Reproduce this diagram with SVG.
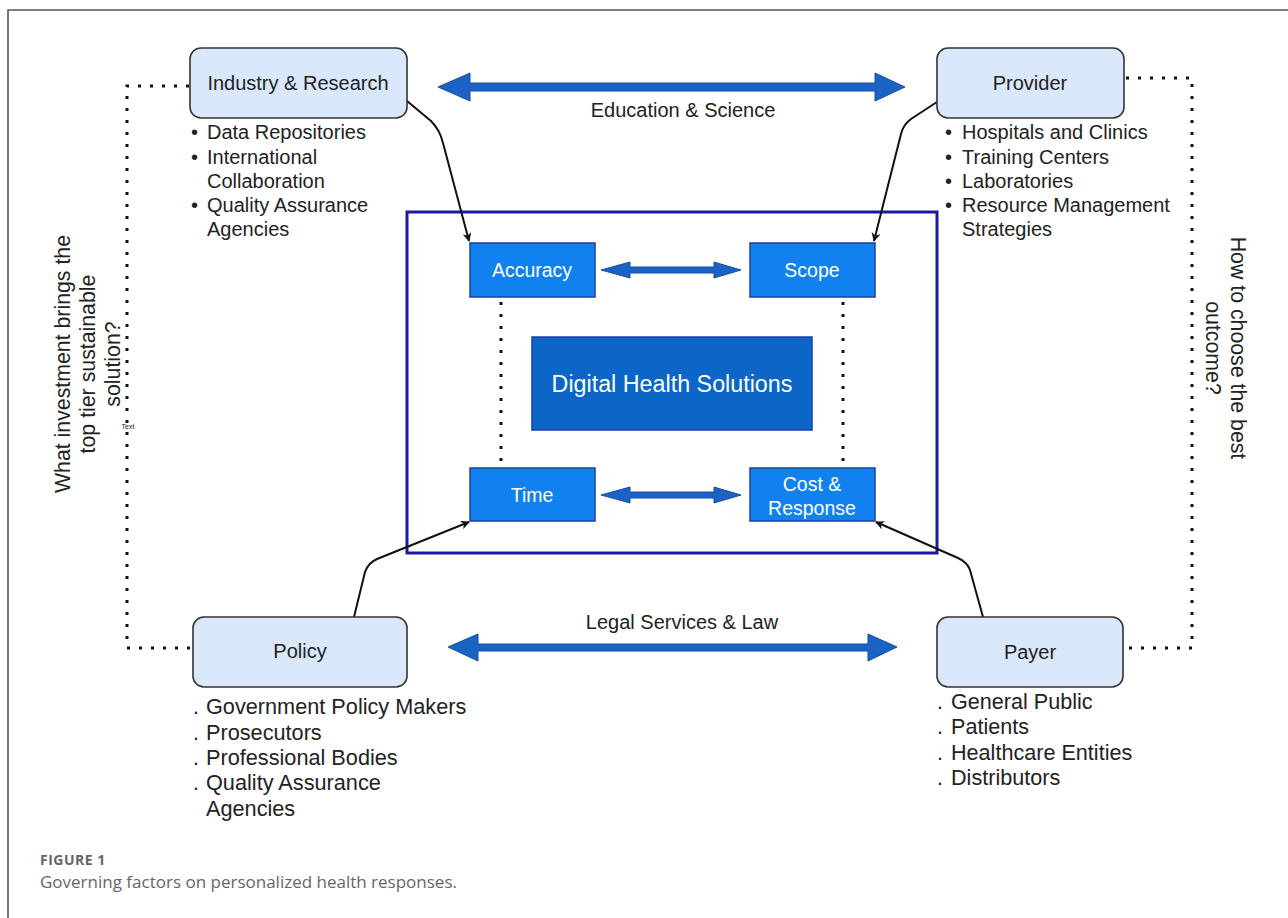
<svg xmlns="http://www.w3.org/2000/svg" width="1288" height="918" viewBox="0 0 1288 918">
  <style>
    .lbl { font-family: "Liberation Sans", Arial, sans-serif; fill: #222; }
    .stake rect { fill: #dae8fc; stroke: #333; stroke-width: 1.6; }
    .factor rect { fill: #1281f0; stroke: #1a3fa8; stroke-width: 1.5; }
    .wt { font-family: "Liberation Sans", Arial, sans-serif; fill: #fff; text-anchor: middle; }
    .dots { fill: none; stroke: #111; stroke-width: 3; stroke-dasharray: 3 9; }
    .conn { fill: none; stroke: #111; stroke-width: 2; }
    .big { fill: #1a63c4; stroke: #14509e; stroke-width: 1; }
    .cap { font-family: "Open Sans", "Liberation Sans", sans-serif; fill: #666; }
  </style>
  <defs>
    <marker id="ah" viewBox="0 0 10 10" refX="9" refY="5" markerWidth="9" markerHeight="9" orient="auto" markerUnits="userSpaceOnUse">
      <path d="M0,0 L10,5 L0,10 L3,5 Z" fill="#111"/>
    </marker>
  </defs>

  <!-- page frame -->
  <path d="M8,918 L8,10 L1288,10" fill="none" stroke="#555" stroke-width="1.6"/>

  <!-- centre frame -->
  <rect x="407" y="212" width="530" height="341" fill="none" stroke="#1a1aa6" stroke-width="3"/>

  <g id="connectors">
    <!-- dotted loops -->
    <path class="dots" d="M189,86 L127,86 L127,648 L193,648"/>
    <path class="dots" d="M1126,78 L1192,78 L1192,648 L1124,648"/>
    <!-- inner dotted links -->
    <path class="dots" d="M501,302 L501,466"/>
    <path class="dots" d="M843,302 L843,466"/>
    <!-- stakeholder to factor arrows -->
    <path class="conn" marker-end="url(#ah)" d="M407,101 L431,121 Q440,130 443,143 L469,241"/>
    <path class="conn" marker-end="url(#ah)" d="M937,102 L911,119 Q903,125 901,134 L874,241"/>
    <path class="conn" marker-end="url(#ah)" d="M354,617 L365,572 Q368,563 377,559 L469,522"/>
    <path class="conn" marker-end="url(#ah)" d="M983,617 L970,570 Q967,562 958,558 L876,522"/>
    <!-- wide double arrows -->
    <polygon class="big" points="438,87 470,73 470,83 875,83 875,73 905,87 875,101 875,91 470,91 470,101"/>
    <polygon class="big" points="448,647 478,634 478,644 868,644 868,634 897,647 868,661 868,651 478,651 478,661"/>
    <polygon class="big" points="601,270 630,262 630,267 714,267 714,262 741,270 714,278 714,273 630,273 630,278"/>
    <polygon class="big" points="601,495 630,487 630,492 714,492 714,487 741,495 714,503 714,498 630,498 630,503"/>
  </g>

  <text class="lbl" x="683" y="117" font-size="20" text-anchor="middle">Education &amp; Science</text>
  <text class="lbl" x="682" y="629" font-size="20" text-anchor="middle">Legal Services &amp; Law</text>

  <g id="industry" class="stake">
    <rect x="190" y="48" width="217" height="70" rx="11"/>
    <text class="lbl" x="298" y="90" font-size="20" text-anchor="middle">Industry &amp; Research</text>
    <g class="lbl" font-size="20">
      <text x="191" y="139">•</text><text x="207" y="139">Data Repositories</text>
      <text x="191" y="164">•</text><text x="207" y="164">International</text>
      <text x="207" y="188">Collaboration</text>
      <text x="191" y="212">•</text><text x="207" y="212">Quality Assurance</text>
      <text x="207" y="236">Agencies</text>
    </g>
  </g>

  <g id="provider" class="stake">
    <rect x="937" y="48" width="187" height="70" rx="11"/>
    <text class="lbl" x="1030" y="90" font-size="20" text-anchor="middle">Provider</text>
    <g class="lbl" font-size="20">
      <text x="945" y="139">•</text><text x="962" y="139">Hospitals and Clinics</text>
      <text x="945" y="164">•</text><text x="962" y="164">Training Centers</text>
      <text x="945" y="188">•</text><text x="962" y="188">Laboratories</text>
      <text x="945" y="212">•</text><text x="962" y="212">Resource Management</text>
      <text x="962" y="236">Strategies</text>
    </g>
  </g>

  <g id="policy" class="stake">
    <rect x="193" y="617" width="214" height="70" rx="11"/>
    <text class="lbl" x="300" y="658" font-size="20" text-anchor="middle">Policy</text>
    <g class="lbl" font-size="21.7">
      <text x="193" y="714">.</text><text x="206" y="714">Government Policy Makers</text>
      <text x="193" y="740">.</text><text x="206" y="740">Prosecutors</text>
      <text x="193" y="765">.</text><text x="206" y="765">Professional Bodies</text>
      <text x="193" y="790">.</text><text x="206" y="790">Quality Assurance</text>
      <text x="206" y="816">Agencies</text>
    </g>
  </g>

  <g id="payer" class="stake">
    <rect x="937" y="617" width="186" height="70" rx="11"/>
    <text class="lbl" x="1030" y="659" font-size="20" text-anchor="middle">Payer</text>
    <g class="lbl" font-size="21.6">
      <text x="937" y="709">.</text><text x="951" y="709">General Public</text>
      <text x="937" y="734">.</text><text x="951" y="734">Patients</text>
      <text x="937" y="760">.</text><text x="951" y="760">Healthcare Entities</text>
      <text x="937" y="785">.</text><text x="951" y="785">Distributors</text>
    </g>
  </g>

  <g id="accuracy" class="factor">
    <rect x="470" y="243" width="125" height="54"/>
    <text class="wt" x="532" y="277" font-size="19.5">Accuracy</text>
  </g>
  <g id="scope" class="factor">
    <rect x="750" y="243" width="125" height="54"/>
    <text class="wt" x="812" y="277" font-size="19.5">Scope</text>
  </g>
  <g id="time" class="factor">
    <rect x="470" y="468" width="125" height="53"/>
    <text class="wt" x="532" y="502" font-size="19.5">Time</text>
  </g>
  <g id="cost" class="factor">
    <rect x="750" y="468" width="125" height="53"/>
    <text class="wt" x="812" y="491" font-size="19.5">Cost &amp;</text>
    <text class="wt" x="812" y="515" font-size="19.5">Response</text>
  </g>
  <g id="dhs">
    <rect x="532" y="337" width="280" height="93" fill="#0b66c8" stroke="#1a3fa8" stroke-width="1.5"/>
    <text class="wt" x="672" y="392" font-size="23.3">Digital Health Solutions</text>
  </g>

  <!-- side questions -->
  <g id="q-left" class="lbl" font-size="21.3" text-anchor="middle">
    <text transform="translate(70,364) rotate(-90)">What investment brings the</text>
    <text transform="translate(95,364) rotate(-90)">top tier sustainable</text>
    <text transform="translate(120,364) rotate(-90)">solution?</text>
  </g>
  <text class="lbl" x="128" y="429" font-size="7" text-anchor="middle" fill="#555">Text</text>
  <g id="q-right" class="lbl" font-size="21.3" text-anchor="middle">
    <text transform="translate(1231,348) rotate(90)">How to choose the best</text>
    <text transform="translate(1206,348) rotate(90)">outcome?</text>
  </g>

  <!-- caption -->
  <text class="cap" x="40" y="865" font-size="14" font-weight="bold" letter-spacing="0.5">FIGURE 1</text>
  <text class="cap" x="40" y="888" font-size="17">Governing factors on personalized health responses.</text>
</svg>
